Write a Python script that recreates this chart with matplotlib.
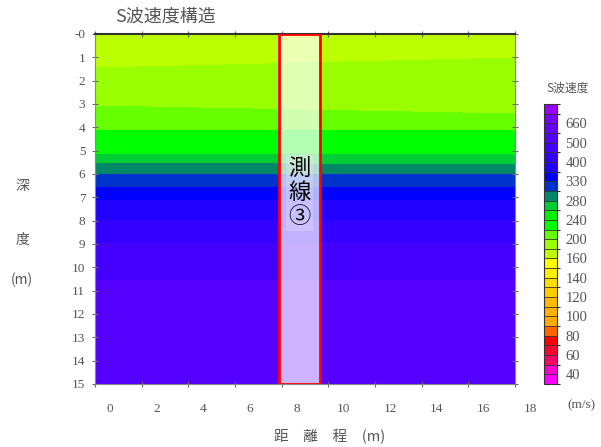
import matplotlib
matplotlib.use("Agg")
import matplotlib.pyplot as plt
import numpy as np
from matplotlib.colors import ListedColormap, BoundaryNorm
from matplotlib.patches import Rectangle
from matplotlib.transforms import ScaledTranslation

# Velocity class boundaries (m/s) and their colours
levels = [30, 40, 50, 60, 70, 80, 90, 100, 110, 120, 130, 140, 150, 160, 180,
          200, 220, 240, 260, 280, 300, 330, 360, 400, 450, 500, 580, 660, 740, 820]
level_colors = ["#ff00ff", "#ff00cc", "#ff0066", "#ff0033", "#ff0000", "#ff6600",
                "#ffaa00", "#ffb000", "#ffbb00", "#ffcc00", "#ffdd00", "#ffee00",
                "#ffff00", "#bbff00", "#99ff00", "#66ff00", "#00ff00", "#00ee00",
                "#00cc33", "#008866", "#0033cc", "#0000ff", "#2200ff", "#3300ff",
                "#4400ff", "#5500ff", "#6600ff", "#7700ff", "#9900ff"]
cbar_ticks = [40, 60, 80, 100, 120, 140, 160, 200, 240, 280, 330, 400, 500, 660]

# Layer boundary depths (m) at the left (x=0) and right (x=18) ends
x_ends = [0.0, 18.0]
depth_left = [0.0, 1.47, 3.09, 4.12, 5.15, 5.55, 6.0, 6.55, 7.1, 7.98, 8.97, 10.56, 15.0]
depth_right = [0.0, 1.05, 3.43, 4.16, 5.19, 5.62, 5.98, 6.55, 7.1, 7.98, 8.97, 10.56, 15.0]
layer_vs = [170, 190, 210, 230, 270, 290, 315, 345, 380, 425, 475, 540]

# Survey line 3 band
line_x = [7.88, 9.64]

x_ticks = [0, 2, 4, 6, 8, 10, 12, 14, 16, 18]
y_ticks = list(range(16))
y_labels = ["-0"] + [str(v) for v in range(1, 16)]

JP = ["Noto Sans CJK JP", "DejaVu Sans"]
NUM = "Liberation Serif"
GRAY = "#555555"

fig = plt.figure(figsize=(6.01, 4.47), dpi=100)
ax = fig.add_axes([95 / 601, 1 - 384 / 447, 420 / 601, 350 / 447])

cmap = ListedColormap(level_colors)
norm = BoundaryNorm(levels, ncolors=cmap.N)

X = np.tile(np.array(x_ends), (len(depth_left), 1))
Y = np.column_stack([depth_left, depth_right])
C = np.array(layer_vs, dtype=float).reshape(-1, 1)
mesh = ax.pcolormesh(X, Y, C, cmap=cmap, norm=norm, shading="flat",
                     edgecolors="none", antialiased=False)

ax.set_xlim(0, 18)
ax.set_ylim(15, 0)

# survey line overlay
ax.add_patch(Rectangle((line_x[0], 0), line_x[1] - line_x[0], 15,
                       facecolor=(1, 1, 1, 0.7), edgecolor="red", lw=2, zorder=3))
ax.text((line_x[0] + line_x[1]) / 2, 6.8, "測\n線\n③", ha="center", va="center",
        fontsize=16, family=JP, color="black", linespacing=1.05, zorder=4,
        bbox=dict(facecolor="white", alpha=0.2, edgecolor="none", pad=2))

# axes styling
ax.set_xticks(x_ticks)
ax.set_yticks(y_ticks)
ax.set_yticklabels(y_labels)
ax.tick_params(axis="both", direction="inout", length=4, width=0.8, color="#666666",
               labelcolor=GRAY, labelsize=9.5)
ax.tick_params(axis="x", pad=12, top=True)
ax.tick_params(axis="y", pad=5, right=True)
for lbl in ax.get_xticklabels() + ax.get_yticklabels():
    lbl.set_family(NUM)
offset = ScaledTranslation(15 / 100, 0, fig.dpi_scale_trans)
for lbl in ax.get_xticklabels():
    lbl.set_transform(lbl.get_transform() + offset)

for side in ["left", "right", "bottom"]:
    ax.spines[side].set_color("#888888")
    ax.spines[side].set_linewidth(0.8)
ax.spines["top"].set_color("#333333")
ax.spines["top"].set_linewidth(1.5)

# titles and labels
fig.text(115 / 601, 1 - 17 / 447, "S波速度構造", ha="left", va="center",
         fontsize=13, family=JP, color=GRAY)
fig.text(330 / 601, 1 - 437 / 447, "距　離　程　(m)", ha="center", va="center",
         fontsize=10.5, family=JP, color=GRAY)
for txt, ypix in [("深", 186), ("度", 240), ("(m)", 280)]:
    fig.text(22 / 601, 1 - ypix / 447, txt, ha="center", va="center",
             fontsize=10, family=JP, color=GRAY)

# colour bar
cax = fig.add_axes([544 / 601, 1 - 384 / 447, 13 / 601, 280 / 447])
cbar = fig.colorbar(mesh, cax=cax, ticks=cbar_ticks, drawedges=True, spacing="uniform")
cbar.outline.set_edgecolor("#333333")
cbar.outline.set_linewidth(0.8)
cbar.dividers.set_color("#333333")
cbar.dividers.set_linewidth(0.6)
cax.tick_params(length=0, pad=6, labelsize=10.5, labelcolor=GRAY)
for lbl in cax.get_yticklabels():
    lbl.set_family(NUM)
fig.text(568 / 601, 1 - 88 / 447, "S波速度", ha="center", va="center",
         fontsize=8.5, family=JP, color=GRAY)
fig.text(581 / 601, 1 - 405 / 447, "(m/s)", ha="center", va="center",
         fontsize=9.5, family=NUM, color=GRAY)

fig.savefig("out.png", dpi=100)
plt.close(fig)
